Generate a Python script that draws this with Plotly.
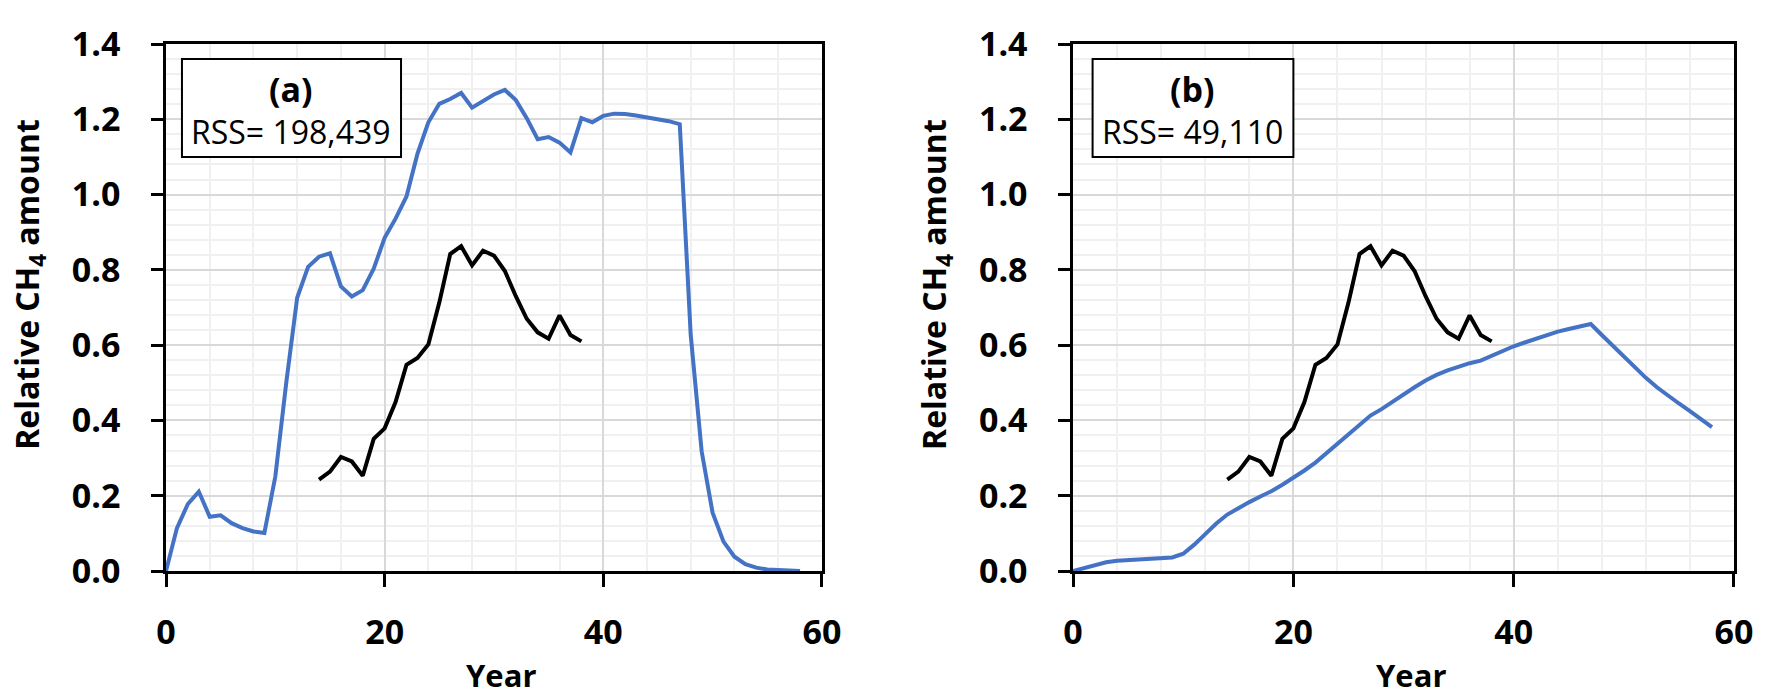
import plotly.graph_objects as go

# ---------------- data ----------------
years_sim = list(range(0, 59))
sim_a = [0.000, 0.114, 0.178, 0.211, 0.144, 0.148, 0.127, 0.114, 0.105, 0.101,
         0.251, 0.500, 0.726, 0.808, 0.835, 0.844, 0.756, 0.729, 0.746, 0.803,
         0.885, 0.936, 0.995, 1.108, 1.192, 1.241, 1.254, 1.270, 1.231, 1.250,
         1.266, 1.278, 1.251, 1.203, 1.147, 1.153, 1.138, 1.112, 1.203, 1.192,
         1.209, 1.215, 1.214, 1.210, 1.205, 1.200, 1.195, 1.187, 0.627, 0.318,
         0.155, 0.078, 0.038, 0.018, 0.009, 0.004, 0.002, 0.001, 0.000]
sim_b = [0.000, 0.008, 0.016, 0.023, 0.027, 0.029, 0.032, 0.034, 0.035, 0.036,
         0.046, 0.070, 0.098, 0.126, 0.150, 0.168, 0.183, 0.198, 0.212, 0.229,
         0.247, 0.267, 0.288, 0.313, 0.339, 0.364, 0.389, 0.413, 0.430, 0.450,
         0.468, 0.488, 0.506, 0.521, 0.533, 0.543, 0.552, 0.559, 0.572, 0.585,
         0.597, 0.607, 0.617, 0.626, 0.636, 0.643, 0.650, 0.656, 0.627, 0.598,
         0.570, 0.541, 0.513, 0.488, 0.465, 0.445, 0.425, 0.403, 0.382]
years_obs = list(range(14, 39))
obs = [0.243, 0.264, 0.303, 0.291, 0.253, 0.351, 0.379, 0.449, 0.548, 0.566,
       0.602, 0.713, 0.842, 0.863, 0.812, 0.851, 0.838, 0.797, 0.730, 0.670,
       0.634, 0.617, 0.679, 0.627, 0.610]

panel_labels = ["(a)", "(b)"]
rss_texts = ["RSS= 198,439", "RSS= 49,110"]
x_tick_vals = [0, 20, 40, 60]
y_tick_vals = [0.0, 0.2, 0.4, 0.6, 0.8, 1.0, 1.2, 1.4]
y_title = "Relative CH<sub>4</sub> amount"
x_title = "Year"

# ---------------- style ----------------
FONT = "Open Sans"
BLUE = "#4472C4"
MAJOR_GRID = "#d9d9d9"
MINOR_GRID = "#f0f0f0"

fig = go.Figure()
for i, sim in enumerate([sim_a, sim_b]):
    xa = "x" if i == 0 else "x2"
    ya = "y" if i == 0 else "y2"
    fig.add_trace(go.Scatter(x=years_sim, y=sim, mode="lines",
                             line=dict(color=BLUE, width=4),
                             xaxis=xa, yaxis=ya, showlegend=False))
    fig.add_trace(go.Scatter(x=years_obs, y=obs, mode="lines",
                             line=dict(color="black", width=4),
                             xaxis=xa, yaxis=ya, showlegend=False))

tick_font = dict(family=FONT, size=34, color="black", weight="bold")

def xaxis_cfg(domain, anchor):
    return dict(domain=domain, anchor=anchor, range=[0, 60], tickvals=x_tick_vals,
                showgrid=True, gridcolor=MAJOR_GRID, gridwidth=2,
                minor=dict(dtick=4, showgrid=True, gridcolor=MINOR_GRID, gridwidth=2),
                showline=True, linecolor="black", linewidth=2.5, mirror=True,
                ticks="outside", ticklen=13, tickwidth=2.5, tickcolor="black",
                ticklabelstandoff=16, ticklabeloverflow="allow",
                zeroline=False, layer="below traces", tickfont=tick_font)

def yaxis_cfg(anchor):
    return dict(domain=[0, 1], anchor=anchor, range=[0, 1.4], tickvals=y_tick_vals,
                tickformat=".1f",
                showgrid=True, gridcolor=MAJOR_GRID, gridwidth=2,
                minor=dict(dtick=0.04, showgrid=True, gridcolor=MINOR_GRID, gridwidth=2),
                showline=True, linecolor="black", linewidth=2.5, mirror=True,
                ticks="outside", ticklen=12, tickwidth=2.5, tickcolor="black",
                ticklabelstandoff=24, ticklabeloverflow="allow",
                zeroline=False, layer="below traces", tickfont=tick_font)

# page body adds an 8px offset, so the figure is sized to fit the window
fig.update_layout(
    width=1757, height=683,
    margin=dict(l=158, r=14, t=20, b=120),
    paper_bgcolor="white", plot_bgcolor="white",
    xaxis=xaxis_cfg([0, 0.4183], "y"),
    yaxis=yaxis_cfg("x"),
    xaxis2=xaxis_cfg([0.5785, 1], "y2"),
    yaxis2=yaxis_cfg("x2"),
)

# annotation boxes and axis titles
boxes = [(1.46, 21.5), (1.77, 20.0)]
for i in range(2):
    xr = "x" if i == 0 else "x2"
    yr = "y" if i == 0 else "y2"
    x0, x1 = boxes[i]
    fig.add_shape(type="rect", xref=xr, yref=yr, x0=x0, x1=x1, y0=1.10, y1=1.36,
                  line=dict(color="black", width=2), fillcolor="white", layer="above")
    xc = (x0 + x1) / 2
    fig.add_annotation(xref=xr, yref=yr, x=xc, y=1.28, text="<b>" + panel_labels[i] + "</b>",
                       showarrow=False, font=dict(family=FONT, size=34, color="black"))
    fig.add_annotation(xref=xr, yref=yr, x=xc, y=1.167, text=rss_texts[i],
                       showarrow=False, font=dict(family=FONT, size=32, color="black"))
    # y-axis title
    fig.add_annotation(xref=xr + " domain", yref=yr + " domain", x=0, y=0.543,
                       xanchor="center", yanchor="middle", xshift=-137, textangle=-90,
                       text="<b>" + y_title + "</b>", showarrow=False, borderpad=0,
                       font=dict(family=FONT, size=32, color="black"))
    # x-axis title
    fig.add_annotation(xref=xr + " domain", yref=yr + " domain", x=0.5, y=0,
                       xanchor="center", yanchor="middle", xshift=7, yshift=-104,
                       text="<b>" + x_title + "</b>", showarrow=False, borderpad=0,
                       font=dict(family=FONT, size=31, color="black"))

fig.write_html("out.html")
